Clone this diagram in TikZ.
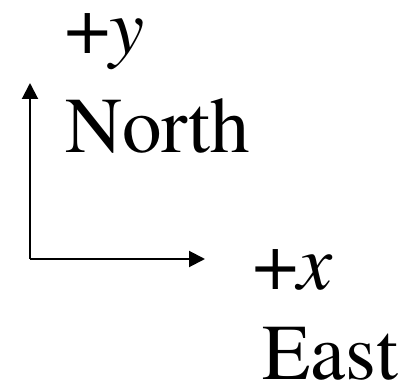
\documentclass[tikz,border=0pt]{standalone}
\usepackage[T1]{fontenc}
\usepackage{mathptmx}
\usetikzlibrary{arrows.meta}
\begin{document}
\begin{tikzpicture}[x=1pt, y=-1pt,
    lbl/.style={anchor=base west, inner sep=0pt, font=\fontsize{79}{79}\selectfont},
    arr/.style={-{Triangle[length=16pt,width=16pt]}, line width=2pt}
  ]
  \useasboundingbox (0,0) rectangle (402,390);
  \coordinate (orig)  at (30,259);
  \coordinate (ytip)  at (30,83);
  \coordinate (xtip)  at (205,259);
  \node[lbl] (yplus) at (65,54)   {+\textit{y}};
  \node[lbl] (north) at (65,153)  {North};
  \node[lbl] (xplus) at (253,290) {+\textit{x}};
  \node[lbl] (east)  at (262,380) {East};
  \draw[arr] (orig) -- (ytip);
  \draw[arr] (orig) -- (xtip);
\end{tikzpicture}
\end{document}
